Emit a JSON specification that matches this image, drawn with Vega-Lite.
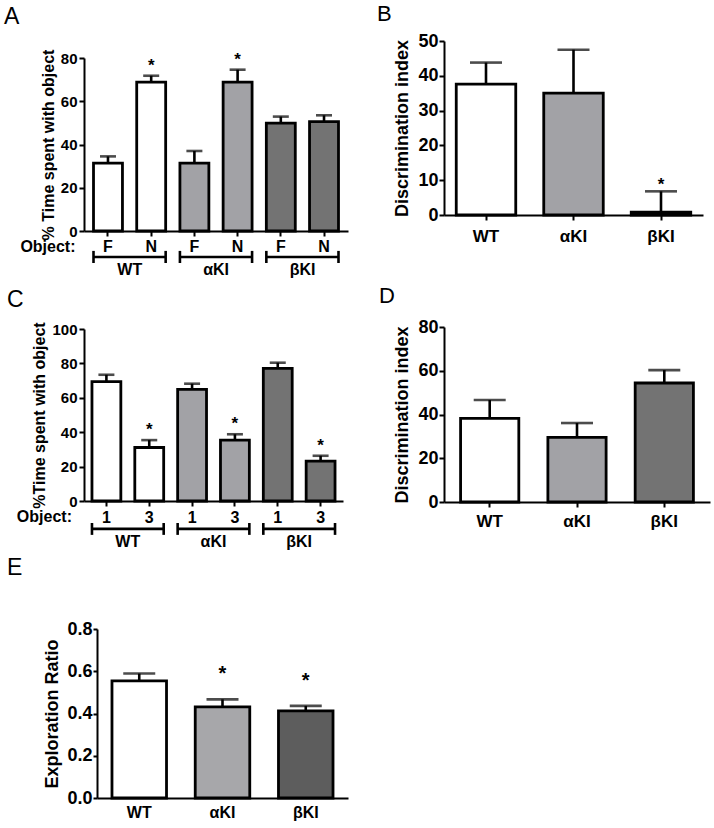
{
  "$schema": "https://vega.github.io/schema/vega-lite/v6.json",
  "padding": {"left": 4, "top": 3, "right": 5, "bottom": 5},
  "background": "white",
  "datasets": {
    "A": [
      {"cat": "WT F", "grp": "WT", "mean": 31.4, "upper": 34.5, "sig": ""},
      {"cat": "WT N", "grp": "WT", "mean": 68.8, "upper": 71.8, "sig": "*"},
      {"cat": "αKI F", "grp": "αKI", "mean": 31.4, "upper": 37.0, "sig": ""},
      {"cat": "αKI N", "grp": "αKI", "mean": 68.8, "upper": 74.6, "sig": "*"},
      {"cat": "βKI F", "grp": "βKI", "mean": 49.9, "upper": 52.9, "sig": ""},
      {"cat": "βKI N", "grp": "βKI", "mean": 50.6, "upper": 53.5, "sig": ""}
    ],
    "Abr": [
      {"g": "WT", "first": "WT F", "last": "WT N", "lab": "Object:"},
      {"g": "αKI", "first": "αKI F", "last": "αKI N", "lab": ""},
      {"g": "βKI", "first": "βKI F", "last": "βKI N", "lab": ""}
    ],
    "B": [
      {"grp": "WT", "mean": 37.6, "upper": 43.8, "sig": ""},
      {"grp": "αKI", "mean": 35.0, "upper": 47.5, "sig": ""},
      {"grp": "βKI", "mean": 0.8, "upper": 6.8, "sig": "*"}
    ],
    "C": [
      {"cat": "WT 1", "grp": "WT", "mean": 69.4, "upper": 73.4, "sig": ""},
      {"cat": "WT 3", "grp": "WT", "mean": 31.1, "upper": 35.4, "sig": "*"},
      {"cat": "αKI 1", "grp": "αKI", "mean": 64.9, "upper": 68.2, "sig": ""},
      {"cat": "αKI 3", "grp": "αKI", "mean": 35.4, "upper": 38.8, "sig": "*"},
      {"cat": "βKI 1", "grp": "βKI", "mean": 77.1, "upper": 80.4, "sig": ""},
      {"cat": "βKI 3", "grp": "βKI", "mean": 23.2, "upper": 26.3, "sig": "*"}
    ],
    "Cbr": [
      {"g": "WT", "first": "WT 1", "last": "WT 3", "lab": "Object:"},
      {"g": "αKI", "first": "αKI 1", "last": "αKI 3", "lab": ""},
      {"g": "βKI", "first": "βKI 1", "last": "βKI 3", "lab": ""}
    ],
    "D": [
      {"grp": "WT", "mean": 38.2, "upper": 46.6, "sig": ""},
      {"grp": "αKI", "mean": 29.5, "upper": 36.1, "sig": ""},
      {"grp": "βKI", "mean": 54.4, "upper": 60.3, "sig": ""}
    ],
    "E": [
      {"grp": "WT", "mean": 0.554, "upper": 0.589, "sig": ""},
      {"grp": "αKI", "mean": 0.431, "upper": 0.467, "sig": "*"},
      {"grp": "βKI", "mean": 0.412, "upper": 0.436, "sig": "*"}
    ]
  },
  "columns": 2,
  "align": "each",
  "bounds": "full",
  "spacing": {"row": 7, "column": 29},
  "resolve": {"scale": {"x": "independent", "y": "independent", "color": "independent"}},
  "concat": [
    {
      "width": 264, "height": 190,
      "title": {"text": "A", "dx": -80, "offset": 12},
      "layer": [
        {
          "data": {"name": "A"},
          "mark": {"type": "bar", "stroke": "black", "strokeWidth": 2.8},
          "encoding": {
            "x": {"field": "cat", "type": "nominal",
              "scale": {"domain": ["WT F", "WT N", "αKI F", "αKI N", "βKI F", "βKI N"], "paddingInner": 0.33, "paddingOuter": 0.22},
              "axis": {"title": null, "labelExpr": "split(datum.label, ' ')[1]", "labelFontSize": 16, "labelBaseline": "middle", "labelPadding": 10, "tickSize": 5}},
            "y": {"field": "mean", "type": "quantitative",
              "scale": {"domain": [0, 80], "nice": false, "range": [190, 17]},
              "axis": {"values": [0, 20, 40, 60, 80], "labelOverlap": false, "title": "% Time spent with object", "titleFontSize": 16, "labelFontSize": 15, "titlePadding": 4, "labelPadding": 2}},
            "color": {"field": "grp", "type": "nominal", "scale": {"domain": ["WT", "αKI", "βKI"], "range": ["#ffffff", "#a2a2a6", "#737373"]}, "legend": null}
          }
        },
        {
          "data": {"name": "A"},
          "mark": {"type": "rule", "color": "black", "strokeWidth": 2.6},
          "encoding": {"x": {"field": "cat", "type": "nominal", "title": null}, "y": {"field": "mean", "type": "quantitative"}, "y2": {"field": "upper"}}
        },
        {
          "data": {"name": "A"},
          "mark": {"type": "tick", "color": "black", "size": 16, "thickness": 2.6},
          "encoding": {"x": {"field": "cat", "type": "nominal", "title": null}, "y": {"field": "upper", "type": "quantitative"}}
        },
        {
          "data": {"name": "A"},
          "mark": {"type": "text", "dy": -5, "fontSize": 17, "fontWeight": "bold", "baseline": "alphabetic", "color": "black"},
          "encoding": {"x": {"field": "cat", "type": "nominal", "title": null}, "y": {"field": "upper", "type": "quantitative"}, "text": {"field": "sig"}}
        },
        {
          "data": {"name": "Abr"},
          "mark": {"type": "rule", "color": "black", "strokeWidth": 2.6},
          "encoding": {"x": {"field": "first", "type": "nominal", "bandPosition": 0, "title": null}, "x2": {"field": "last", "bandPosition": 1}, "y": {"datum": -12}}
        },
        {
          "data": {"name": "Abr"},
          "mark": {"type": "rule", "color": "black", "strokeWidth": 2.6},
          "encoding": {"x": {"field": "first", "type": "nominal", "bandPosition": 0, "title": null}, "y": {"datum": -9.2}, "y2": {"datum": -14.8}}
        },
        {
          "data": {"name": "Abr"},
          "mark": {"type": "rule", "color": "black", "strokeWidth": 2.6},
          "encoding": {"x": {"field": "last", "type": "nominal", "bandPosition": 1, "title": null}, "y": {"datum": -9.2}, "y2": {"datum": -14.8}}
        },
        {
          "data": {"name": "Abr"},
          "mark": {"type": "text", "dx": -7, "fontSize": 16, "fontWeight": "bold", "baseline": "middle", "color": "black"},
          "encoding": {"x": {"field": "last", "type": "nominal", "bandPosition": 0, "title": null}, "y": {"datum": -18}, "text": {"field": "g"}}
        },
        {
          "data": {"name": "Abr"},
          "mark": {"type": "text", "dx": -18, "align": "right", "fontSize": 16, "fontWeight": "bold", "baseline": "middle", "color": "black"},
          "encoding": {"x": {"field": "first", "type": "nominal", "bandPosition": 0, "title": null}, "y": {"datum": -7.2}, "text": {"field": "lab"}}
        }
      ]
    },
    {
      "width": 259, "height": 174,
      "title": {"text": "B", "dx": -67, "offset": 6, "fontSize": 22},
      "layer": [
        {
          "data": {"name": "B"},
          "mark": {"type": "bar", "stroke": "black", "strokeWidth": 2.8},
          "encoding": {
            "x": {"field": "grp", "type": "nominal",
              "scale": {"domain": ["WT", "αKI", "βKI"], "paddingInner": 0.32, "paddingOuter": 0.14},
              "axis": {"title": null, "labelFontSize": 17, "labelBaseline": "middle", "labelPadding": 16, "tickSize": 5}},
            "y": {"field": "mean", "type": "quantitative",
              "scale": {"domain": [0, 50], "nice": false},
              "axis": {"values": [0, 10, 20, 30, 40, 50], "tickCount": 6, "labelOverlap": false, "title": "Discrimination index", "titleFontSize": 18, "labelFontSize": 18, "titlePadding": 6, "labelPadding": 1}},
            "color": {"field": "grp", "type": "nominal", "scale": {"domain": ["WT", "αKI", "βKI"], "range": ["#ffffff", "#a2a2a6", "#737373"]}, "legend": null}
          }
        },
        {
          "data": {"name": "B"},
          "mark": {"type": "rule", "color": "black", "strokeWidth": 2.6},
          "encoding": {"x": {"field": "grp", "type": "nominal"}, "y": {"field": "mean", "type": "quantitative"}, "y2": {"field": "upper"}}
        },
        {
          "data": {"name": "B"},
          "mark": {"type": "tick", "color": "black", "size": 32, "thickness": 2.6},
          "encoding": {"x": {"field": "grp", "type": "nominal"}, "y": {"field": "upper", "type": "quantitative"}}
        },
        {
          "data": {"name": "B"},
          "mark": {"type": "text", "dy": -1, "fontSize": 17, "fontWeight": "bold", "baseline": "alphabetic", "color": "black"},
          "encoding": {"x": {"field": "grp", "type": "nominal"}, "y": {"field": "upper", "type": "quantitative"}, "text": {"field": "sig"}}
        }
      ]
    },
    {
      "width": 259, "height": 174,
      "title": {"text": "C", "dx": -77, "offset": 10},
      "layer": [
        {
          "data": {"name": "C"},
          "mark": {"type": "bar", "stroke": "black", "strokeWidth": 2.8},
          "encoding": {
            "x": {"field": "cat", "type": "nominal",
              "scale": {"domain": ["WT 1", "WT 3", "αKI 1", "αKI 3", "βKI 1", "βKI 3"], "paddingInner": 0.326, "paddingOuter": 0.186},
              "axis": {"title": null, "labelExpr": "split(datum.label, ' ')[1]", "labelFontSize": 16, "labelBaseline": "middle", "labelPadding": 11, "tickSize": 5}},
            "y": {"field": "mean", "type": "quantitative",
              "scale": {"domain": [0, 100], "nice": false, "range": [174, 2]},
              "axis": {"values": [0, 20, 40, 60, 80, 100], "tickCount": 6, "labelOverlap": false, "title": "%Time spent with object", "titleFontSize": 16, "labelFontSize": 15, "titlePadding": 4, "labelPadding": 2}},
            "color": {"field": "grp", "type": "nominal", "scale": {"domain": ["WT", "αKI", "βKI"], "range": ["#ffffff", "#a2a2a6", "#737373"]}, "legend": null}
          }
        },
        {
          "data": {"name": "C"},
          "mark": {"type": "rule", "color": "black", "strokeWidth": 2.6},
          "encoding": {"x": {"field": "cat", "type": "nominal", "title": null}, "y": {"field": "mean", "type": "quantitative"}, "y2": {"field": "upper"}}
        },
        {
          "data": {"name": "C"},
          "mark": {"type": "tick", "color": "black", "size": 16, "thickness": 2.6},
          "encoding": {"x": {"field": "cat", "type": "nominal", "title": null}, "y": {"field": "upper", "type": "quantitative"}}
        },
        {
          "data": {"name": "C"},
          "mark": {"type": "text", "dy": -5, "fontSize": 17, "fontWeight": "bold", "baseline": "alphabetic", "color": "black"},
          "encoding": {"x": {"field": "cat", "type": "nominal", "title": null}, "y": {"field": "upper", "type": "quantitative"}, "text": {"field": "sig"}}
        },
        {
          "data": {"name": "Cbr"},
          "mark": {"type": "rule", "color": "black", "strokeWidth": 2.6},
          "encoding": {"x": {"field": "first", "type": "nominal", "bandPosition": 0, "title": null}, "x2": {"field": "last", "bandPosition": 1}, "y": {"datum": -16.2}}
        },
        {
          "data": {"name": "Cbr"},
          "mark": {"type": "rule", "color": "black", "strokeWidth": 2.6},
          "encoding": {"x": {"field": "first", "type": "nominal", "bandPosition": 0, "title": null}, "y": {"datum": -12.8}, "y2": {"datum": -19.7}}
        },
        {
          "data": {"name": "Cbr"},
          "mark": {"type": "rule", "color": "black", "strokeWidth": 2.6},
          "encoding": {"x": {"field": "last", "type": "nominal", "bandPosition": 1, "title": null}, "y": {"datum": -12.8}, "y2": {"datum": -19.7}}
        },
        {
          "data": {"name": "Cbr"},
          "mark": {"type": "text", "dx": -7, "fontSize": 16, "fontWeight": "bold", "baseline": "middle", "color": "black"},
          "encoding": {"x": {"field": "last", "type": "nominal", "bandPosition": 0, "title": null}, "y": {"datum": -23.8}, "text": {"field": "g"}}
        },
        {
          "data": {"name": "Cbr"},
          "mark": {"type": "text", "dx": -20, "align": "right", "fontSize": 16, "fontWeight": "bold", "baseline": "middle", "color": "black"},
          "encoding": {"x": {"field": "first", "type": "nominal", "bandPosition": 0, "title": null}, "y": {"datum": -9.5}, "text": {"field": "lab"}}
        }
      ]
    },
    {
      "width": 266, "height": 175,
      "title": {"text": "D", "dx": -65, "offset": 10, "fontSize": 22},
      "layer": [
        {
          "data": {"name": "D"},
          "mark": {"type": "bar", "stroke": "black", "strokeWidth": 2.8},
          "encoding": {
            "x": {"field": "grp", "type": "nominal",
              "scale": {"domain": ["WT", "αKI", "βKI"], "paddingInner": 0.333, "paddingOuter": 0.19},
              "axis": {"title": null, "labelFontSize": 17, "labelBaseline": "middle", "labelPadding": 14, "tickSize": 5}},
            "y": {"field": "mean", "type": "quantitative",
              "scale": {"domain": [0, 80], "nice": false},
              "axis": {"values": [0, 20, 40, 60, 80], "labelOverlap": false, "title": "Discrimination index", "titleFontSize": 18, "labelFontSize": 18, "titlePadding": 6, "labelPadding": 1}},
            "color": {"field": "grp", "type": "nominal", "scale": {"domain": ["WT", "αKI", "βKI"], "range": ["#ffffff", "#a2a2a6", "#737373"]}, "legend": null}
          }
        },
        {
          "data": {"name": "D"},
          "mark": {"type": "rule", "color": "black", "strokeWidth": 2.6},
          "encoding": {"x": {"field": "grp", "type": "nominal"}, "y": {"field": "mean", "type": "quantitative"}, "y2": {"field": "upper"}}
        },
        {
          "data": {"name": "D"},
          "mark": {"type": "tick", "color": "black", "size": 32, "thickness": 2.6},
          "encoding": {"x": {"field": "grp", "type": "nominal"}, "y": {"field": "upper", "type": "quantitative"}}
        }
      ]
    },
    {
      "width": 264, "height": 169,
      "title": {"text": "E", "dx": -77, "offset": 40},
      "layer": [
        {
          "data": {"name": "E"},
          "mark": {"type": "bar", "stroke": "black", "strokeWidth": 2.8},
          "encoding": {
            "x": {"field": "grp", "type": "nominal",
              "scale": {"domain": ["WT", "αKI", "βKI"], "paddingInner": 0.345, "paddingOuter": 0.18, "range": [13, 264]},
              "axis": {"title": null, "labelFontSize": 16, "labelBaseline": "middle", "labelPadding": 14, "tickSize": 0}},
            "y": {"field": "mean", "type": "quantitative",
              "scale": {"domain": [0, 0.8], "nice": false},
              "axis": {"values": [0, 0.2, 0.4, 0.6, 0.8], "labelOverlap": false, "format": ".1f", "offset": -13, "title": "Exploration Ratio", "titleFontSize": 18, "labelFontSize": 18, "titlePadding": 5, "labelPadding": 1, "tickSize": 4}},
            "color": {"field": "grp", "type": "nominal", "scale": {"domain": ["WT", "αKI", "βKI"], "range": ["#ffffff", "#a7a7aa", "#5d5d5d"]}, "legend": null}
          }
        },
        {
          "data": {"name": "E"},
          "mark": {"type": "rule", "color": "black", "strokeWidth": 2.6},
          "encoding": {"x": {"field": "grp", "type": "nominal"}, "y": {"field": "mean", "type": "quantitative"}, "y2": {"field": "upper"}}
        },
        {
          "data": {"name": "E"},
          "mark": {"type": "tick", "color": "black", "size": 32, "thickness": 2.6},
          "encoding": {"x": {"field": "grp", "type": "nominal"}, "y": {"field": "upper", "type": "quantitative"}}
        },
        {
          "data": {"name": "E"},
          "mark": {"type": "text", "dy": -19, "fontSize": 20, "fontWeight": "bold", "baseline": "alphabetic", "color": "black"},
          "encoding": {"x": {"field": "grp", "type": "nominal"}, "y": {"field": "upper", "type": "quantitative"}, "text": {"field": "sig"}}
        }
      ]
    }
  ],
  "config": {
    "view": {"stroke": null},
    "font": "Liberation Sans",
    "title": {"anchor": "start", "frame": "group", "font": "Liberation Sans", "fontWeight": "normal", "fontSize": 23, "baseline": "bottom", "color": "black"},
    "axis": {"grid": false, "domainColor": "black", "domainWidth": 2, "tickColor": "black", "tickWidth": 2, "tickSize": 5, "labelOverlap": false,
      "labelColor": "black", "labelFont": "Liberation Sans", "labelFontWeight": "bold", "titleFont": "Liberation Sans", "titleFontWeight": "bold", "titleColor": "black", "labelAngle": 0}
  }
}
